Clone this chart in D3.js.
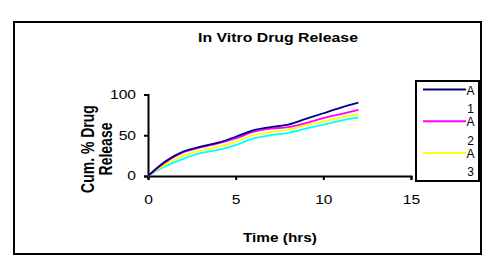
<!DOCTYPE html>
<html>
<head>
<meta charset="UTF-8">
<script src="https://cdn.jsdelivr.net/npm/d3@7"></script>
<style>
  body { margin: 0; background: #fff; }
  text { font-family: "Liberation Sans", Arial, sans-serif; fill: #000; }
</style>
</head>
<body>
<script>
var hours = [0, 1, 2, 3, 4, 5, 6, 7, 8, 9, 10, 11, 12]
var seriesNames = ['A1', 'A2', 'A3', 'A4']
var a1 = [0, 18, 30, 36, 41, 48, 56, 60, 63, 70, 77, 84, 90]
var a2 = [0, 17, 29, 35, 40, 46, 54, 58, 60, 65, 71, 76, 81]
var a3 = [0, 14, 25, 31, 36, 42, 50, 54, 57, 62, 67, 72, 76]
var a4 = [0, 12, 21, 28, 32, 38, 46, 50, 53, 58, 63, 68, 72]
var xTicks = [0, 5, 10, 15]
var yTicks = [0, 50, 100]
var colors = ['#000080', '#ff00ff', '#ffff00', '#00ffff']

var width = 500, height = 266
var svg = d3.select('body').append('svg').attr('width', width).attr('height', height)

// the picture is wider than normal text, so stretch glyphs sideways
function stretch(sel, k) {
  sel.each(function () {
    var w = this.getComputedTextLength()
    d3.select(this).attr('textLength', w * k).attr('lengthAdjust', 'spacingAndGlyphs')
  })
}

svg.append('rect').attr('x', 14).attr('y', 22).attr('width', 467).attr('height', 232)
  .attr('fill', '#fff').attr('stroke', '#000').attr('stroke-width', 2)

svg.append('text').attr('x', 278).attr('y', 42).attr('text-anchor', 'middle')
  .style('font-size', '12px').style('font-weight', 'bold').text('In Vitro Drug Release')
  .call(stretch, 1.32)

var x = d3.scaleLinear().domain([0, 15]).range([148, 411])
var y = d3.scaleLinear().domain([0, 100]).range([176, 94.5])

var xAxis = svg.append('g').attr('transform', 'translate(0,176)')
  .call(d3.axisBottom(x).tickValues(xTicks).tickSize(4).tickPadding(15))
var yAxis = svg.append('g').attr('transform', 'translate(148,0)')
  .call(d3.axisLeft(y).tickValues(yTicks).tickSize(4).tickPadding(8))
;[xAxis, yAxis].forEach(function (ax) {
  ax.select('.domain').attr('stroke-width', 2)
  ax.selectAll('.tick line').attr('stroke-width', 2)
  ax.selectAll('.tick text').style('font-size', '12px')
    .style('font-family', '"Liberation Sans", Arial, sans-serif')
    .call(stretch, 1.3)
})

svg.append('text').attr('x', 280).attr('y', 242).attr('text-anchor', 'middle')
  .style('font-size', '12px').style('font-weight', 'bold').text('Time (hrs)')
  .call(stretch, 1.28)
var ylab = svg.append('text').attr('transform', 'translate(94,149) scale(1.3,1) rotate(-90)')
  .attr('text-anchor', 'middle').style('font-size', '14px').style('font-weight', 'bold')
ylab.append('tspan').attr('x', 0).attr('dy', 0).text('Cum. % Drug')
ylab.append('tspan').attr('x', 0).attr('dy', 14).text('Release')

var data = [a1, a2, a3, a4]
var line = d3.line().x(function (d, i) { return x(hours[i]) }).y(function (d) { return y(d) })
  .curve(d3.curveCatmullRom)
data.slice().reverse().forEach(function (s, k) {
  svg.append('path').datum(s).attr('d', line).attr('fill', 'none')
    .attr('stroke', colors[data.length - 1 - k]).attr('stroke-width', 1.8)
})

// legend box is too short for all entries; only those that fit are shown
var lx = 416, ly = 81, lw = 63, lh = 100
svg.append('rect').attr('x', lx).attr('y', ly).attr('width', lw).attr('height', lh)
  .attr('fill', '#fff').attr('stroke', '#000').attr('stroke-width', 2)
seriesNames.forEach(function (n, i) {
  var yy = 89.5 + i * 31.7
  if (yy > ly + lh) return
  svg.append('line').attr('x1', 423).attr('x2', 466).attr('y1', yy).attr('y2', yy)
    .attr('stroke', colors[i]).attr('stroke-width', 2)
  var t = svg.append('text').attr('text-anchor', 'middle').style('font-size', '12px')
  t.append('tspan').attr('x', 470.5).attr('y', yy + 5).text(n.charAt(0))
  t.append('tspan').attr('x', 470.5).attr('y', yy + 23.5).text(n.slice(1))
})
</script>
</body>
</html>
